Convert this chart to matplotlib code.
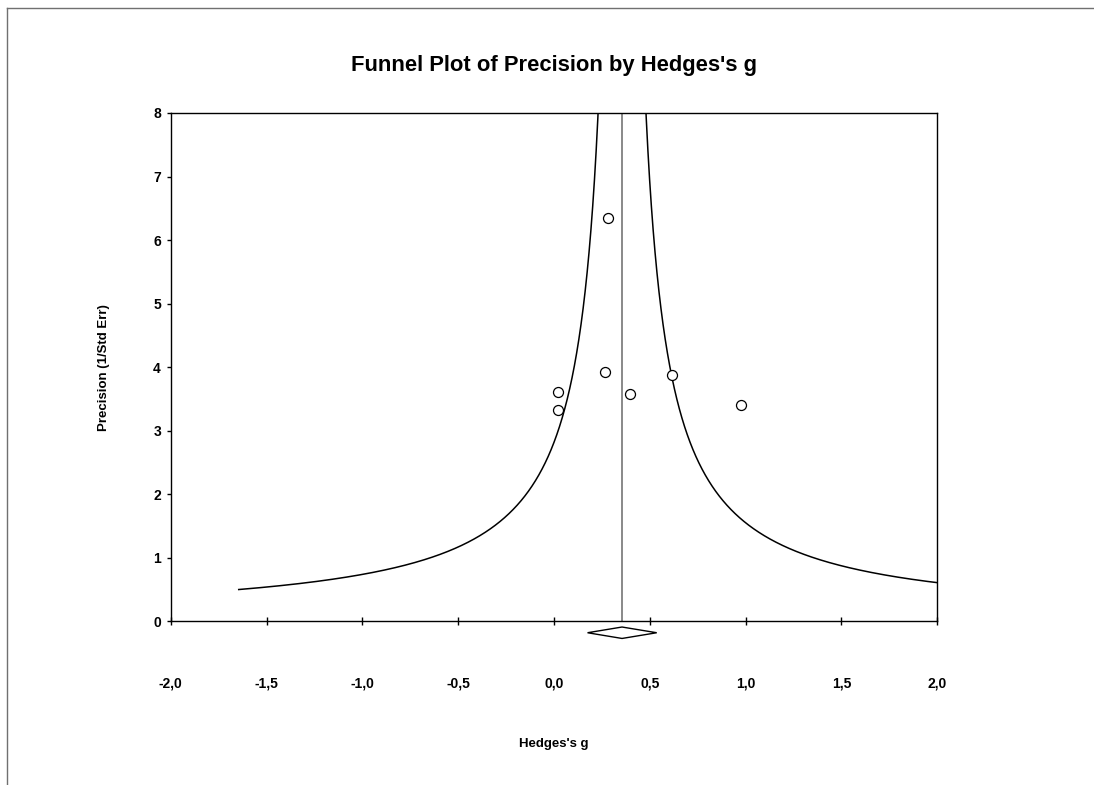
import numpy as np
import matplotlib
matplotlib.use("Agg")
import matplotlib.pyplot as plt
from matplotlib.lines import Line2D
from matplotlib.patches import Polygon

plt.rcParams['font.family'] = ['Liberation Sans', 'DejaVu Sans']

# Data
hedges_g = [0.281, 0.266, 0.019, 0.019, 0.394, 0.618, 0.976]
precision = [6.35, 3.93, 3.61, 3.32, 3.58, 3.88, 3.41]
pooled_g = 0.355
ci_low, ci_high = 0.175, 0.536
funnel_z = 1.0
x_ticks = [-2.0, -1.5, -1.0, -0.5, 0.0, 0.5, 1.0, 1.5, 2.0]
x_tick_labels = ['-2,0', '-1,5', '-1,0', '-0,5', '0,0', '0,5', '1,0', '1,5', '2,0']
y_ticks = [0, 1, 2, 3, 4, 5, 6, 7, 8]

W, H = 1094, 785
fig = plt.figure(figsize=(W / 100, H / 100), dpi=100)
ax = fig.add_axes([170.7 / W, 1 - 621.3 / H, (937.3 - 170.7) / W, (621.3 - 113) / H])

# Funnel curves
p = np.linspace(0.5, 9, 2000)
ax.plot(pooled_g - funnel_z / p, p, color='black', lw=1.1)
ax.plot(pooled_g + funnel_z / p, p, color='black', lw=1.1)

# pooled line
ax.axvline(pooled_g, color='#808080', lw=1.3)

# studies
ax.plot(hedges_g, precision, 'o', mfc='white', mec='black', ms=7.2, mew=0.9, zorder=5)

# diamond below axis
dh = 0.09
diamond = Polygon([[ci_low, -0.18], [pooled_g, -0.18 + dh], [ci_high, -0.18], [pooled_g, -0.18 - dh]],
                  closed=True, facecolor='white', edgecolor='black', lw=1.0, clip_on=False, zorder=6)
ax.add_patch(diamond)

ax.set_xlim(-2.0, 2.0)
ax.set_ylim(0, 8)
ax.set_xticks(x_ticks)
ax.set_xticklabels(x_tick_labels, fontsize=10, fontweight='bold')
ax.set_yticks(y_ticks)
ax.set_yticklabels([str(v) for v in y_ticks], fontsize=10, fontweight='bold')
ax.tick_params(axis='x', direction='inout', length=6, width=1, pad=37)
ax.tick_params(axis='y', direction='out', length=3, width=1, pad=4)
for s in ax.spines.values():
    s.set_linewidth(1.0)

ax.set_xlabel("Hedges's g", fontsize=9.5, fontweight='bold', labelpad=34)
ax.set_ylabel("Precision (1/Std Err)", fontsize=9.5, fontweight='bold', labelpad=31)
ax.set_title("Funnel Plot of Precision by Hedges's g", fontsize=15.8, fontweight='bold', pad=30)

# outer frame lines
fig.add_artist(Line2D([7 / W, 7 / W], [0, 1 - 8 / H], color='#707070', lw=1.0))
fig.add_artist(Line2D([7 / W, 1], [1 - 8 / H, 1 - 8 / H], color='#707070', lw=1.0))

fig.savefig('out.png', dpi=100)
